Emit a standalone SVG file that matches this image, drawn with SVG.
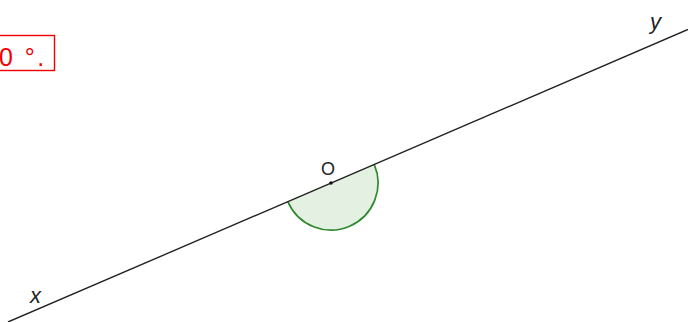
<svg xmlns="http://www.w3.org/2000/svg" width="688" height="322" viewBox="0 0 688 322">
<style>
.lbl{font-family:"Liberation Sans",Arial,sans-serif;font-style:italic;font-size:22px;fill:#222}
</style>
<rect width="688" height="322" fill="#fff"/>
<g id="note">
<rect x="-10" y="35.5" width="64.5" height="35" fill="none" stroke="#f00000" stroke-width="1.4"/>
<text x="-1" y="66" font-family="'Liberation Sans',Arial,sans-serif" font-size="25" letter-spacing="2.5" fill="#f00000">0 °.</text>
</g>
<g id="angle">
<path d="M374.2,164.4 A47,47 0 0 1 287.8,201.6 Z" fill="#e4f0e2" stroke="none"/>
<path d="M374.2,164.4 A47,47 0 0 1 287.8,201.6" fill="none" stroke="#2f8a2f" stroke-width="1.7"/>
</g>
<g id="connectors">
<line x1="8" y1="322" x2="688" y2="29.5" stroke="#222" stroke-width="1.4"/>
</g>
<g id="point-O">
<circle cx="331" cy="183" r="1.8" fill="#111"/>
<text x="328" y="175" text-anchor="middle" font-family="'Liberation Sans',Arial,sans-serif" font-size="18" fill="#222">O</text>
</g>
<g id="label-x"><text class="lbl" x="30" y="303">x</text></g>
<g id="label-y"><text class="lbl" x="650" y="29">y</text></g>
</svg>
